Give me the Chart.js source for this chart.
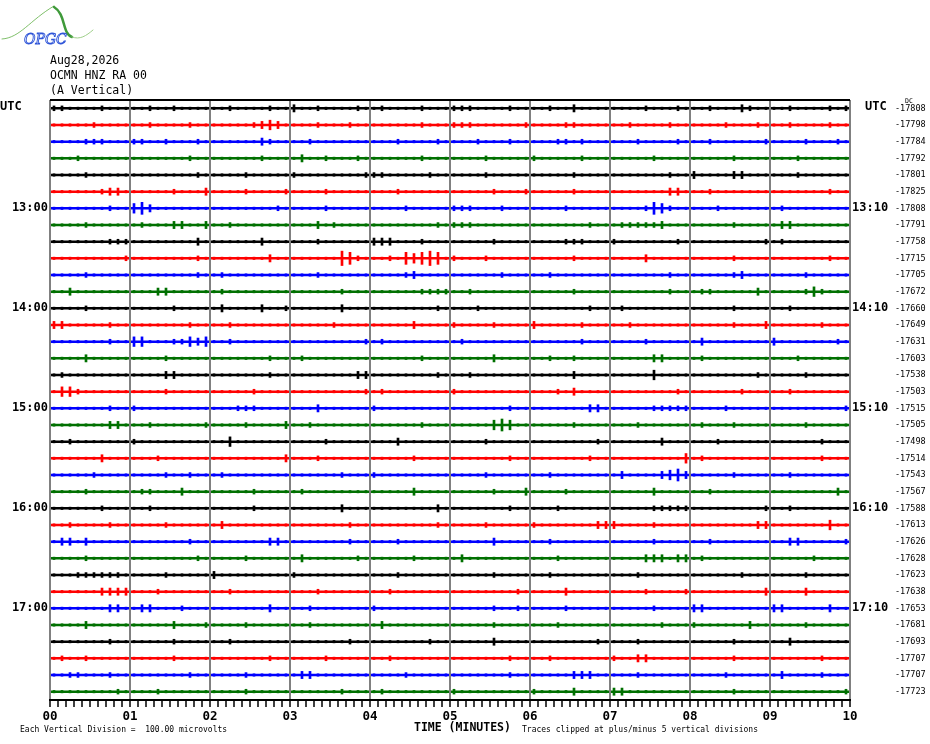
<!DOCTYPE html>
<html>
<head>
<meta charset="utf-8">
<script src="https://cdn.jsdelivr.net/npm/chart.js@4.4.1/dist/chart.umd.min.js"></script>
<style>
  body { margin: 0; background: #fff; }
  canvas { display: block; }
</style>
</head>
<body>
<canvas id="heli" width="930" height="744"></canvas>
<script>
// station header
const headerLines = ["Aug28,2026", "OCMN HNZ RA 00", "(A Vertical)"];

// one row per 10 minutes, 12:00 -> 17:50
const leftLabels = [
  "UTC", "", "", "", "", "",
  "13:00", "", "", "", "", "",
  "14:00", "", "", "", "", "",
  "15:00", "", "", "", "", "",
  "16:00", "", "", "", "", "",
  "17:00", "", "", "", "", ""
];
const rightLabels = [
  "", "", "", "", "", "",
  "13:10", "", "", "", "", "",
  "14:10", "", "", "", "", "",
  "15:10", "", "", "", "", "",
  "16:10", "", "", "", "", "",
  "17:10", "", "", "", "", ""
];
// DC offset of each trace
const dcOffsets = [
  -17808, -17798, -17784, -17792, -17801, -17825,
  -17808, -17791, -17758, -17715, -17705, -17672,
  -17660, -17649, -17631, -17603, -17538, -17503,
  -17515, -17505, -17498, -17514, -17543, -17567,
  -17588, -17613, -17626, -17628, -17623, -17638,
  -17653, -17681, -17693, -17707, -17707, -17723
];

// envelope of each trace, one digit per 6 s (digit * 7.2 microvolts)
const traces = [
  "2211112111 1121121111 1121111211 3112111121 1211112111 2221111211 1121131111 1111211121 1121113211 1121111212",
  "1111121111 1121111211 1111123431 1112111211 1111112111 2221111112 1111221111 1121111211 1111211121 1121111211",
  "1111222111 2211211121 1111113211 1121111111 1112111121 1112111211 1112212111 1112111121 1121111112 1111211121",
  "1112111111 1111111211 1111112111 1311211121 1111112111 1111211111 2111112111 1111121111 1111121111 1112111111",
  "1111211111 1111111121 1111211111 2111111112 2211111211 1111211111 1111121111 1111111211 3111133111 1112111111",
  "1111112331 1111121113 1111211112 1111211111 1112111111 1111121112 1111121111 1111111331 1121111111 1111111211",
  "1111111211 4531111111 1111111121 1111211111 1111211111 2221112111 1111211111 1111254211 1112111111 1211111111",
  "1111211111 1211133113 1121111111 1113121111 1111111121 2221111111 1111111211 1222223111 1111121111 1331111111",
  "1111111222 1111111131 1111113111 1112111111 3331112111 1111121111 1111222111 2111111121 1111111112 1211111111",
  "1111111112 1111111121 1111111311 1111116521 1121545651 2111211111 1111121111 1111311111 1111121111 1111111211",
  "1111211111 1111111121 1211111111 1112111111 1111231111 1111112111 1121111111 1111111211 1111123111 1111211111",
  "1131111111 1113311111 1211111111 1111112111 1111112222 1121111111 1111121111 1111111211 1221111131 1111242111",
  "1111211111 1111121111 1311113112 1111113111 1111111121 1112111111 1111111211 1211111111 1111121111 1121111111",
  "3311111211 1111111211 1121111111 1111121111 1111131111 2111121111 3111112111 1121111111 1111121113 1111112111",
  "1111111211 4411122434 1121111111 1111111112 1211111111 1211111111 1111112111 1111211111 1311111111 3111111121",
  "1111311111 1111211111 1111111211 1211111111 1111112111 1111131111 1121121111 1111133111 1211111111 1112111111",
  "1211111111 1111331111 1111111211 1111111133 1111111121 1121111111 1111131111 1111141111 1111111121 1111211111",
  "1442111111 1111211111 1111121111 1111111112 1211111111 2111111111 1112131111 1111111121 1111112111 1121111111",
  "1111111211 2111111111 1112221111 1113111111 2111111111 1111111211 1111111331 1111122222 1111211111 1111111112",
  "1111111331 1121111112 1111211113 1121111111 1111112111 1111145411 1111121111 1112111111 1211121111 1111211111",
  "1121111111 2111111111 1141111111 1111211111 1113111111 1111211111 1111111121 1111113111 1112111111 1111112111",
  "1111113111 1112111111 1111111113 1112111111 1111121111 1111111211 1111111211 1111111114 1211111111 1111112111",
  "1111121111 1111211211 1211111111 1111112111 2111111111 1111211111 1121111111 1311113453 1111121111 1121111111",
  "1111211111 1221113111 1111121111 1211111111 1111131111 1111121113 1111211111 1111131111 1121111111 1111111131",
  "1111112111 1121111111 1111121111 1111113111 1111111131 1111111211 1112111111 1111122222 1111111112 1121111111",
  "1121111211 1111211111 1311111111 1111111211 1111111121 1111211111 2111111133 3111121111 1111111133 1111111411",
  "1331311111 1111111211 1111111331 1111111211 1112111111 1111131111 1121111111 1111121111 1121111111 1133111112",
  "1111211111 1111111121 1111211111 1311111121 1111121111 1311111111 1112111111 1111333133 1211111111 1111121111",
  "1112222221 1111211111 3111111111 2111111111 1112111111 1111121111 1121111111 1112111111 1111112111 1111211111",
  "1111113333 1112111111 1121111111 1112111111 1121111111 1111111121 1111311111 1111211112 1111111113 1111311111",
  "1111111331 1331112111 1111111311 1121111111 2111111111 1111121121 1111211111 1111121111 3311111111 3311111311",
  "1111311111 1111131112 1111211111 1121111111 1311111111 1111121111 1112111111 1111112111 2111111311 1111211111",
  "1111111211 1111121111 1121111111 1111111211 1111111211 1111131111 1111111121 1112111111 1111121111 1131111111",
  "1211211111 1111121111 1111111211 1111211111 1121111111 1111111211 1121111111 2113311111 1111121111 1111112111",
  "1122111211 1111111211 1111211111 1331111111 1111211111 1111111211 1111133311 1112111111 1111211111 1311112111",
  "1111111121 1112111111 1111211111 1111112111 1211111111 2111111111 2111131111 3311111111 1111121111 1111111112"
];

const uvPerStep = 7.2;
const uvPerDivision = 100;
const sampleMinutes = 0.1;
const traceColors = ["#000000", "#ff0000", "#0000ff", "#007000"];
const mono = "'DejaVu Sans Mono', monospace";

const isWhole = (v) => Math.abs(v - Math.round(v)) < 1e-6;

const datasets = [];
traces.forEach((str, i) => {
  const amps = str.replace(/ /g, "").split("").map(Number);
  const color = traceColors[i % 4];
  datasets.push({
    type: "line",
    data: [{ x: 0, y: i }, { x: 10, y: i }],
    borderColor: color,
    borderWidth: 2.5,
    pointRadius: 0,
  });
  datasets.push({
    type: "bar",
    data: amps.map((d, k) => {
      const a = (d * uvPerStep) / uvPerDivision;
      return { x: (k + 0.5) * sampleMinutes, y: [i - a, i + a] };
    }),
    backgroundColor: color,
    barThickness: 2,
    grouped: false,
  });
});

const rowAxis = (extra) => Object.assign({
  type: "linear",
  min: -0.5,
  max: 35.5,
  reverse: true,
  grid: { display: false, drawTicks: false },
  border: { display: false },
}, extra);

const textPlugin = {
  id: "heliText",
  afterDraw(chart) {
    const ctx = chart.ctx;
    const area = chart.chartArea;
    const yScale = chart.scales.y;
    ctx.save();

    // top frame line
    ctx.strokeStyle = "#000";
    ctx.lineWidth = 2;
    ctx.beginPath();
    ctx.moveTo(area.left, area.top);
    ctx.lineTo(area.right, area.top);
    ctx.stroke();

    ctx.fillStyle = "#000";
    ctx.textBaseline = "middle";
    ctx.textAlign = "left";

    ctx.font = "11.5px " + mono;
    headerLines.forEach((t, i) => ctx.fillText(t, 50, 61 + i * 15));

    const topY = yScale.getPixelForValue(0) - 1;
    ctx.font = "bold 12px " + mono;
    ctx.fillText("UTC", 0, topY);
    ctx.fillText("UTC", 865, topY);
    ctx.font = "6.5px " + mono;
    ctx.fillText("DC", 905, topY - 6);

    ctx.font = "8px " + mono;
    ctx.fillText("Each Vertical Division =  100.00 microvolts", 20, 730);
    ctx.fillText("Traces clipped at plus/minus 5 vertical divisions", 522, 730);
    ctx.font = "bold 11.5px " + mono;
    ctx.fillText("TIME (MINUTES)", 414, 728);

    // logo
    ctx.lineCap = "round";
    ctx.strokeStyle = "#7fbf6a";
    ctx.lineWidth = 1;
    ctx.beginPath();
    ctx.moveTo(2, 39);
    ctx.bezierCurveTo(20, 38, 30, 20, 54, 6);
    ctx.stroke();
    ctx.strokeStyle = "#3f9a3a";
    ctx.lineWidth = 2.5;
    ctx.beginPath();
    ctx.moveTo(54, 7);
    ctx.bezierCurveTo(66, 14, 62, 34, 72, 37);
    ctx.stroke();
    ctx.strokeStyle = "#9fcf8a";
    ctx.lineWidth = 1;
    ctx.beginPath();
    ctx.moveTo(72, 37);
    ctx.bezierCurveTo(80, 40, 86, 36, 93, 30);
    ctx.stroke();
    ctx.font = "italic 14px 'DejaVu Serif', serif";
    ctx.strokeStyle = "#2f55d8";
    ctx.lineWidth = 0.9;
    ctx.strokeText("OPGC", 24, 40);
    ctx.restore();
  },
};

new Chart(document.getElementById("heli"), {
  type: "bar",
  data: { datasets },
  options: {
    responsive: false,
    animation: false,
    events: [],
    layout: { padding: { top: 100, left: 0, right: 0, bottom: 0 } },
    plugins: { legend: { display: false }, tooltip: { enabled: false } },
    scales: {
      x: {
        type: "linear",
        position: "bottom",
        min: 0,
        max: 10,
        offset: false,
        ticks: {
          stepSize: 0.1,
          autoSkip: false,
          maxRotation: 0,
          padding: 2,
          color: "#000",
          font: { family: mono, size: 12.5, weight: "bold" },
          callback: (v) => (isWhole(v) ? String(Math.round(v)).padStart(2, "0") : ""),
        },
        grid: {
          offset: false,
          color: (c) => (c.tick && isWhole(c.tick.value) ? "#808080" : "rgba(0,0,0,0)"),
          lineWidth: 2,
          tickColor: "#000",
          tickWidth: 1.5,
          tickLength: 7,
          z: 1,
        },
        // same layer as the grid so the border position is computed first
        border: { color: "#000", width: 2, z: 1 },
        afterFit: (s) => { s.height = 44; },
      },
      y: rowAxis({
        position: "left",
        afterBuildTicks: (s) => { s.ticks = leftLabels.map((_, i) => ({ value: i })); },
        ticks: {
          autoSkip: false,
          padding: 2,
          color: "#000",
          font: { family: mono, size: 12, weight: "bold" },
          callback: (v, idx) => (leftLabels[idx] === "UTC" ? "" : leftLabels[idx]),
        },
        afterFit: (s) => { s.width = 50; },
      }),
      yh: rowAxis({
        position: "right",
        weight: 0,
        afterBuildTicks: (s) => { s.ticks = rightLabels.map((_, i) => ({ value: i })); },
        ticks: {
          autoSkip: false,
          padding: 2,
          color: "#000",
          font: { family: mono, size: 12, weight: "bold" },
          callback: (v, idx) => rightLabels[idx],
        },
        afterFit: (s) => { s.width = 45; },
      }),
      yn: rowAxis({
        position: "right",
        weight: 1,
        afterBuildTicks: (s) => { s.ticks = dcOffsets.map((_, i) => ({ value: i })); },
        ticks: {
          autoSkip: false,
          padding: 0,
          color: "#000",
          font: { family: mono, size: 8.5 },
          callback: (v, idx) => String(dcOffsets[idx]),
        },
        afterFit: (s) => { s.width = 35; },
      }),
    },
  },
  plugins: [textPlugin],
});
</script>
</body>
</html>
